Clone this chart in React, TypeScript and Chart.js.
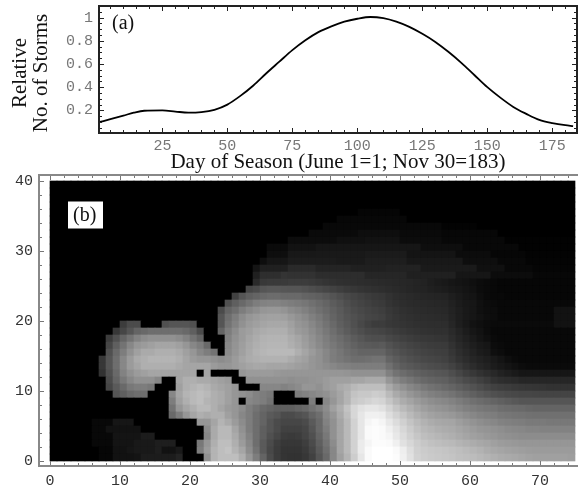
import React, { useEffect, useRef } from "react";
import { Chart, registerables } from "chart.js";

Chart.register(...registerables);

const curveDays = [1, 5, 10, 14, 18, 25, 30, 35, 40, 45, 50, 55, 60, 65, 70, 75, 80, 85, 90, 95, 100, 105, 110, 115, 120, 125, 130, 135, 140, 145, 150, 155, 160, 165, 170, 175, 180, 183];
const curveValues = [0.1, 0.125, 0.155, 0.18, 0.197, 0.2, 0.19, 0.18, 0.185, 0.205, 0.25, 0.325, 0.415, 0.52, 0.62, 0.72, 0.805, 0.875, 0.925, 0.965, 0.99, 1.005, 0.995, 0.965, 0.92, 0.86, 0.79, 0.705, 0.61, 0.505, 0.4, 0.31, 0.23, 0.17, 0.118, 0.09, 0.072, 0.065];

const blank = [0,0,0,0,0,0,0,0,0,0, 0,0,0,0,0,0,0,0,0,0, 0,0,0,0,0,0,0,0,0,0, 0,0,0,0,0,0,0,0,0,0, 0,0,0,0,0,0,0,0,0,0, 0,0,0,0,0,0,0,0,0,0, 0,0,0,0,0,0,0,0,0,0, 0,0,0,0,0];
const y35 = [0,0,0,0,0,0,0,0,0,0, 0,0,0,0,0,0,0,0,0,0, 0,0,0,0,0,0,0,0,0,0, 0,0,0,0,0,0,0,0,0,0, 0,0,0,0,5,5,5,5,5,5, 0,0,0,0,0,0,0,0,0,0, 0,0,0,0,0,0,0,0,0,0, 0,0,0,0,0];
const y34 = [0,0,0,0,0,0,0,0,0,0, 0,0,0,0,0,0,0,0,0,0, 0,0,0,0,0,0,0,0,0,0, 0,0,0,0,0,0,0,0,0,0, 0,7,7,7,7,7,7,7,7,7, 7,0,0,0,0,0,0,0,0,0, 0,0,0,0,0,0,0,0,0,0, 0,0,0,0,0];
const y33 = [0,0,0,0,0,0,0,0,0,0, 0,0,0,0,0,0,0,0,0,0, 0,0,0,0,0,0,0,0,0,0, 0,0,0,0,0,0,0,0,0,8, 8,8,8,8,8,8,8,8,8,8, 8,8,8,8,8,8,3,3,3,3, 3,0,0,0,0,0,0,0,0,0, 0,0,0,0,0];
const y32 = [0,0,0,0,0,0,0,0,0,0, 0,0,0,0,0,0,0,0,0,0, 0,0,0,0,0,0,0,0,0,0, 0,0,0,0,0,0,0,10,10,10, 10,10,10,10,14,14,14,14,14,14, 10,10,10,10,10,10,7,7,7,7, 7,7,7,7,0,0,0,0,0,0, 0,0,0,0,0];
const y31 = [0,0,0,0,0,0,0,0,0,0, 0,0,0,0,0,0,0,0,0,0, 0,0,0,0,0,0,0,0,0,0, 0,0,0,0,12,12,12,12,12,12, 12,16,16,16,16,18,18,18,18,18, 12,12,12,12,12,12,8,8,8,8, 8,8,8,8,8,2,2,2,2,2, 2,2,2,2,2];
const y30 = [0,0,0,0,0,0,0,0,0,0, 0,0,0,0,0,0,0,0,0,0, 0,0,0,0,0,0,0,0,0,0, 0,10,10,10,18,18,18,18,22,22, 22,22,22,22,22,22,22,22,22,22, 22,22,22,14,14,14,14,14,14,8, 8,8,8,8,8,8,8,2,2,2, 2,2,2,2,2];
const y29 = [0,0,0,0,0,0,0,0,0,0, 0,0,0,0,0,0,0,0,0,0, 0,0,0,0,0,0,0,0,0,0, 0,14,14,14,24,24,24,24,25,25, 25,25,25,25,25,27,27,27,27,27, 27,20,20,20,20,20,20,20,12,12, 12,12,12,6,6,6,6,6,3,3, 3,3,3,3,3];
const y28 = [0,0,0,0,0,0,0,0,0,0, 0,0,0,0,0,0,0,0,0,0, 0,0,0,0,0,0,0,0,0,0, 14,22,22,22,28,28,28,28,28,28, 28,26,26,26,26,30,30,30,30,30, 30,24,24,24,24,24,24,24,24,14, 14,14,14,14,8,8,8,8,4,4, 4,4,4,4,4];
const y27 = [0,0,0,0,0,0,0,0,0,0, 0,0,0,0,0,0,0,0,0,0, 0,0,0,0,0,0,0,0,0,20, 32,32,32,32,42,42,42,42,36,36, 36,36,36,32,32,32,32,32,34,34, 34,34,34,26,26,26,26,26,26,26, 26,16,16,16,16,8,8,8,8,5, 5,5,5,5,5];
const y26 = [0,0,0,0,0,0,0,0,0,0, 0,0,0,0,0,0,0,0,0,0, 0,0,0,0,0,0,0,0,0,32, 46,46,46,52,50,50,50,50,45,45, 45,45,45,45,45,38,38,38,38,38, 38,32,32,32,32,32,32,32,22,22, 22,22,22,12,12,12,12,12,12,7, 7,7,7,7,7];
const y25 = [0,0,0,0,0,0,0,0,0,0, 0,0,0,0,0,0,0,0,0,0, 0,0,0,0,0,0,0,0,0,42, 56,58,58,58,60,60,60,58,55,52, 50,48,47,46,45,44,43,42,41,40, 39,38,36,34,30,27,25,22,20,18, 15,12,10,8,6,6,6,6,6,6, 6,6,6,6,6];
const y24 = [0,0,0,0,0,0,0,0,0,0, 0,0,0,0,0,0,0,0,0,0, 0,0,0,0,0,0,0,0,70,75, 85,88,88,86,85,85,82,78,74,70, 66,62,58,55,52,50,48,46,44,42, 40,38,36,35,32,30,28,25,23,20, 17,12,10,8,6,6,6,6,6,6, 6,6,6,6,6];
const y23 = [0,0,0,0,0,0,0,0,0,0, 0,0,0,0,0,0,0,0,0,0, 0,0,0,0,0,0,65,85,95,100, 105,108,108,105,105,105,100,98,95,90, 84,78,72,68,64,60,57,55,50,46, 44,42,40,38,37,36,35,30,26,22, 20,14,10,8,8,6,6,6,6,6, 6,6,6,6,6];
const y22 = [0,0,0,0,0,0,0,0,0,0, 0,0,0,0,0,0,0,0,0,0, 0,0,0,0,0,80,95,105,115,125, 130,132,132,128,125,122,118,112,106,100, 92,86,78,72,68,64,60,58,52,48, 45,43,42,41,40,39,38,33,28,24, 22,16,12,10,8,8,8,8,8,8, 8,8,8,8,8];
const y21 = [0,0,0,0,0,0,0,0,0,0, 0,0,0,0,0,0,0,0,0,0, 0,0,0,0,75,100,110,125,135,142, 150,152,152,148,140,135,128,120,112,105, 97,90,82,76,72,68,65,62,56,52, 48,46,44,43,42,41,40,35,30,25, 22,16,13,12,8,8,8,8,8,8, 8,8,18,18,18];
const y20 = [0,0,0,0,0,0,0,0,0,0, 0,0,0,0,0,0,0,0,0,0, 0,0,0,0,85,110,125,140,150,155, 160,162,162,160,152,145,138,128,120,110, 100,92,85,80,75,70,68,65,58,54, 50,48,46,45,44,43,42,36,30,25, 22,18,14,12,8,8,8,8,8,8, 8,8,18,18,18];
const y19 = [0,0,0,0,0,0,0,0,0,0, 60,75,75,0,0,0,80,85,85,85, 80,0,0,0,85,115,130,145,155,160, 165,168,168,168,160,150,145,135,125,115, 105,95,88,80,72,65,60,60,56,54, 52,50,48,47,46,46,45,38,30,24, 18,15,12,10,10,10,10,10,10,10, 10,10,18,18,18];
const y18 = [0,0,0,0,0,0,0,0,0,55, 70,85,100,105,110,110,110,110,110,105, 95,75,0,0,100,125,140,155,160,168, 172,175,175,175,165,155,150,140,130,120, 110,100,92,84,78,72,70,68,64,60, 57,54,52,50,49,48,48,42,35,28, 22,18,12,8,8,8,8,8,8,8, 8,8,8,8,8];
const y17 = [0,0,0,0,0,0,0,0,60,80, 100,115,130,140,145,145,145,145,140,130, 115,100,0,0,0,130,145,155,165,172, 178,180,180,180,172,165,155,145,135,125, 115,108,100,92,86,80,78,78,72,68, 64,61,58,56,55,53,52,45,38,32, 26,20,15,10,8,8,8,8,8,8, 8,8,8,8,8];
const y16 = [0,0,0,0,0,0,0,0,70,95, 115,135,150,155,160,165,165,165,160,150, 135,125,105,0,0,135,148,158,168,175, 180,182,182,182,175,168,158,148,138,128, 120,112,105,98,92,90,88,90,82,76, 72,68,65,62,60,59,58,50,42,36, 30,25,22,12,10,8,8,8,8,8, 8,8,8,8,8];
const y15 = [0,0,0,0,0,0,0,0,80,105, 125,145,160,170,170,175,175,175,170,160, 150,135,125,115,0,138,150,160,170,178, 182,185,185,185,185,175,165,155,145,135, 125,118,110,105,100,100,100,100,90,84, 78,74,70,67,65,63,62,54,46,40, 34,28,25,15,12,8,8,8,8,8, 8,8,8,8,8];
const y14 = [0,0,0,0,0,0,0,55,85,110, 135,155,170,175,180,180,180,180,175,165, 155,150,150,145,140,145,155,165,172,175, 178,178,178,178,172,165,160,150,145,135, 125,120,115,110,110,112,115,115,100,92, 85,80,76,72,70,68,65,58,50,44, 38,34,30,25,20,14,10,8,8,8, 8,8,8,8,8];
const y13 = [0,0,0,0,0,0,0,55,85,110, 135,155,165,175,175,175,175,175,170,165, 165,165,165,155,150,150,155,160,165,168, 168,165,165,165,162,158,155,150,145,140, 135,130,128,125,125,125,125,125,112,100, 92,88,84,80,77,75,72,66,58,50, 44,38,34,28,24,20,16,12,10,10, 10,10,10,10,10];
const y12 = [0,0,0,0,0,0,0,50,80,105, 130,145,155,160,165,165,165,165,165,165, 165,0,165,0,0,0,0,150,155,155, 155,155,152,150,150,150,150,150,150,150, 150,150,148,145,145,145,145,145,128,115, 108,102,97,93,90,87,85,78,70,62, 56,50,45,40,34,30,26,22,22,22, 22,22,22,22,22];
const y11 = [0,0,0,0,0,0,0,0,75,100, 120,135,145,145,145,135,0,0,165,175, 175,170,170,165,160,155,0,0,145,145, 145,145,145,145,142,145,145,148,150,155, 160,160,160,165,165,170,170,170,150,135, 125,118,110,104,100,97,95,88,82,75, 70,64,58,50,46,44,42,38,38,38, 38,38,38,38,38];
const y10 = [0,0,0,0,0,0,0,0,70,90, 105,120,125,125,120,0,0,0,160,175, 180,185,180,170,165,160,150,0,0,0, 135,135,135,130,135,140,150,150,145,155, 160,170,175,185,190,190,190,190,170,155, 145,135,128,120,114,110,105,100,94,88, 82,76,70,65,62,60,57,55,54,53, 52,50,50,50,50];
const y09 = [0,0,0,0,0,0,0,0,0,85, 95,105,110,110,0,0,0,135,165,180, 185,190,185,175,170,160,150,145,140,130, 125,120,0,0,0,125,130,135,140,145, 155,165,180,195,200,200,205,202,186,170, 160,150,142,134,128,124,120,115,108,102, 96,90,85,80,77,74,72,70,70,69, 68,68,68,68,68];
const y08 = [0,0,0,0,0,0,0,0,0,0, 0,0,0,0,0,0,0,125,160,175, 185,190,180,175,170,160,150,0,135,130, 125,115,0,0,0,0,0,125,0,135, 150,165,180,200,205,210,215,212,198,184, 172,164,155,148,142,138,135,130,124,118, 112,108,104,100,96,92,88,85,85,85, 85,85,85,85,85];
const y07 = [0,0,0,0,0,0,0,0,0,0, 0,0,0,0,0,0,0,115,150,165, 175,185,185,175,165,155,150,140,125,115, 105,100,95,95,95,100,105,115,125,140, 160,175,195,215,225,230,230,225,212,198, 186,176,166,158,152,148,145,140,134,128, 124,120,117,115,110,108,106,105,102,100, 100,100,100,100,100];
const y06 = [0,0,0,0,0,0,0,0,0,0, 0,0,0,0,0,0,0,105,125,150, 165,175,170,175,175,160,150,135,125,110, 100,90,85,75,75,80,85,100,110,135, 150,170,190,215,230,240,240,238,222,210, 198,186,176,168,162,158,155,152,146,140, 135,130,127,125,120,118,116,115,113,112, 112,112,112,112,112];
const y05 = [0,0,0,0,0,0,8,8,8,22, 22,22,0,0,0,0,0,0,0,0, 0,150,150,165,180,170,155,140,125,110, 100,85,75,70,70,70,75,90,105,130, 145,165,185,210,230,245,250,245,232,220, 208,196,186,178,172,168,166,165,158,152, 147,142,138,135,130,128,126,125,122,122, 122,120,120,120,120];
const y04 = [0,0,0,0,0,0,8,8,18,18, 18,18,18,0,0,0,0,0,0,0, 0,0,140,170,185,185,165,145,125,110, 95,85,75,65,65,65,70,85,105,125, 145,165,185,210,230,250,252,250,240,228, 215,203,192,184,180,175,172,170,165,160, 155,150,148,145,142,138,136,135,132,132, 130,130,130,130,130];
const y03 = [0,0,0,0,0,0,8,8,8,20, 20,20,20,28,28,0,0,0,0,0, 0,0,135,170,185,185,170,150,130,110, 95,80,70,60,58,60,68,80,100,120, 145,165,185,210,230,250,252,250,245,232, 220,208,198,190,186,182,178,175,170,165, 160,157,153,150,146,144,142,140,140,140, 140,140,140,140,140];
const y02 = [0,0,0,0,0,0,8,8,8,20, 20,20,25,25,25,30,30,30,0,0, 0,120,150,175,190,190,175,155,135,110, 90,75,62,55,55,55,62,75,95,115, 140,165,185,210,235,245,252,252,250,240, 225,215,205,198,193,190,187,185,180,176, 172,168,165,160,156,154,152,150,150,150, 150,150,150,150,150];
const y01 = [0,0,0,0,0,0,0,6,6,18, 18,22,25,25,25,30,18,18,25,0, 0,125,155,180,190,195,180,165,140,115, 90,72,60,52,52,52,58,70,90,110, 135,165,185,210,235,250,255,255,255,250, 238,222,208,203,200,198,196,193,190,186, 182,178,172,168,165,162,160,158,156,155, 155,155,155,155,155];
const y00 = [0,0,0,0,0,0,0,6,6,18, 18,18,20,28,28,28,28,28,35,0, 0,0,145,180,190,190,190,175,150,125, 100,75,60,52,50,50,55,65,85,105, 135,160,180,205,230,250,255,255,255,252, 240,225,210,205,202,200,198,196,192,190, 188,184,180,176,172,170,168,165,162,160, 160,160,160,160,158];

const grayRows = [y00,y01,y02,y03,y04,y05,y06,y07,y08,y09,y10,y11,y12,y13,y14,y15,y16,y17,y18,y19,y20,y21,y22,y23,y24,y25,y26,y27,y28,y29,y30,y31,y32,y33,y34,y35,blank,blank,blank,blank];

const MONO = "'Liberation Mono', monospace";
const SERIF = "'Liberation Serif', serif";

const noAutoPad = (s: any) => { s.paddingTop = 0; s.paddingBottom = 0; s.paddingLeft = 0; s.paddingRight = 0; };

const curvePanel = {
  id: "curvePanel",
  afterLayout(chart: any) { chart.scales.y.top += 7; },
  afterDatasetsDraw(chart: any) {
    const { ctx, scales: { x, y }, chartArea } = chart;
    const L = chartArea.left, R = chartArea.right, T = chartArea.top, B = chartArea.bottom;
    ctx.save();
    ctx.strokeStyle = "#222";
    ctx.lineWidth = 1;
    for (let d = 5; d <= 180; d += 5) {
      const px = Math.round(x.getPixelForValue(d)) + 0.5;
      const len = d % 25 === 0 ? 5 : 3;
      ctx.beginPath(); ctx.moveTo(px, B); ctx.lineTo(px, B - len); ctx.moveTo(px, T); ctx.lineTo(px, T + len); ctx.stroke();
    }
    for (let k = 1; k <= 21; k++) {
      const v = k * 0.05;
      const py = Math.round(y.getPixelForValue(v)) + 0.5;
      const len = k % 4 === 0 ? 5 : 3;
      ctx.beginPath(); ctx.moveTo(L, py); ctx.lineTo(L + len, py); ctx.moveTo(R, py); ctx.lineTo(R - len, py); ctx.stroke();
    }
    ctx.lineWidth = 2;
    ctx.strokeRect(L, T, R - L, B - T);
    ctx.fillStyle = "#111";
    ctx.font = "20px " + SERIF;
    ctx.textBaseline = "middle";
    ctx.fillText("(a)", 112, 24);
    ctx.restore();
  },
};

const heatPanel = {
  id: "heatPanel",
  afterDatasetsDraw(chart: any) {
    const { ctx, scales: { x, y }, chartArea } = chart;
    const L = chartArea.left, R = chartArea.right, T = chartArea.top, B = chartArea.bottom;
    ctx.save();
    ctx.strokeStyle = "#777";
    ctx.lineWidth = 1;
    for (let v = 0; v <= 75; v += 2) {
      const px = Math.round(x.getPixelForValue(v)) + 0.5;
      const len = v % 10 === 0 ? 5 : 3;
      ctx.beginPath(); ctx.moveTo(px, B); ctx.lineTo(px, B - len); ctx.moveTo(px, T); ctx.lineTo(px, T + len); ctx.stroke();
    }
    for (let v = 0; v <= 40; v += 2) {
      const py = Math.round(y.getPixelForValue(v)) + 0.5;
      const len = v % 10 === 0 ? 5 : 3;
      ctx.beginPath(); ctx.moveTo(L, py); ctx.lineTo(L + len, py); ctx.stroke();
    }
    ctx.strokeStyle = "#888";
    ctx.lineWidth = 2;
    ctx.beginPath(); ctx.moveTo(R, T); ctx.lineTo(L, T); ctx.lineTo(L, B); ctx.lineTo(R, B); ctx.stroke();
    const by = 201.5 - 170;
    ctx.fillStyle = "#fff";
    ctx.fillRect(68, by, 35, 27);
    ctx.fillStyle = "#111";
    ctx.font = "20px " + SERIF;
    ctx.textBaseline = "middle";
    ctx.fillText("(b)", 73, by + 14);
    ctx.restore();
  },
};

export default function App() {
  const topRef = useRef<HTMLCanvasElement>(null);
  const botRef = useRef<HTMLCanvasElement>(null);

  useEffect(() => {
    const a = new Chart(topRef.current as HTMLCanvasElement, {
      type: "line",
      data: {
        datasets: [{
          data: curveDays.map((d, i) => ({ x: d, y: curveValues[i] })),
          borderColor: "#000",
          borderWidth: 1.8,
          pointRadius: 0,
          cubicInterpolationMode: "monotone",
          fill: false,
        }],
      },
      options: {
        animation: false,
        responsive: false,
        devicePixelRatio: 1,
        layout: { autoPadding: false, padding: { top: 6, right: 1, left: 0, bottom: 0 } },
        plugins: { legend: { display: false }, tooltip: { enabled: false } },
        scales: {
          x: {
            type: "linear",
            min: 0.615,
            max: 184.5,
            grid: { display: false, drawTicks: false },
            border: { display: false },
            afterFit: (s: any) => { s.height = 42; noAutoPad(s); },
            ticks: { stepSize: 25, includeBounds: false, autoSkip: false, maxRotation: 0, padding: 4, color: "#777", font: { family: MONO, size: 15 } },
            title: { display: true, text: "Day of Season (June 1=1; Nov 30=183)", color: "#111", font: { family: SERIF, size: 21 }, padding: { top: 0, bottom: 0 } },
          },
          y: {
            type: "linear",
            min: 0.005,
            max: 1.1,
            grid: { display: false, drawTicks: false },
            border: { display: false },
            afterFit: (s: any) => { s.width = 99; noAutoPad(s); },
            ticks: {
              stepSize: 0.2,
              includeBounds: false,
              autoSkip: false,
              padding: 6,
              color: "#777",
              font: { family: MONO, size: 15 },
              callback: (v: any) => (v >= 0.999 ? "1" : Number(v).toFixed(1)),
            },
            title: { display: true, text: ["Relative", "No. of Storms"], color: "#111", font: { family: SERIF, size: 21, lineHeight: 1.0 }, padding: { top: 10, bottom: 0 } },
          },
        },
      },
      plugins: [curvePanel],
    } as any);

    const rowCount = grayRows.length;
    const b = new Chart(botRef.current as HTMLCanvasElement, {
      type: "bar",
      data: {
        datasets: grayRows.map((row, j) => ({
          data: row.map((_, i) => ({ x: i + 0.5, y: [j, j + 1] })),
          backgroundColor: row.map((g) => `rgb(${g},${g},${g})`),
          barThickness: 7,
          borderWidth: 0,
        })),
      },
      options: {
        animation: false,
        responsive: false,
        devicePixelRatio: 1,
        layout: { autoPadding: false, padding: { top: 5, right: 0, left: 0, bottom: 0 } },
        plugins: { legend: { display: false }, tooltip: { enabled: false } },
        scales: {
          x: {
            type: "linear",
            stacked: true,
            offset: false,
            min: -11 / 7,
            max: 528 / 7,
            grid: { display: false, drawTicks: false, offset: false },
            border: { display: false },
            afterFit: (s: any) => { s.height = 23; noAutoPad(s); },
            ticks: { stepSize: 10, includeBounds: false, autoSkip: false, maxRotation: 0, padding: 6, color: "#333", font: { family: MONO, size: 15 } },
          },
          y: {
            type: "linear",
            offset: false,
            min: -5 / 7,
            max: rowCount + 6 / 7,
            grid: { display: false, drawTicks: false },
            border: { display: false },
            afterFit: (s: any) => { s.width = 39; noAutoPad(s); },
            ticks: { stepSize: 10, includeBounds: false, autoSkip: false, padding: 6, color: "#333", font: { family: MONO, size: 15 } },
          },
        },
      },
      plugins: [heatPanel],
    } as any);

    return () => { a.destroy(); b.destroy(); };
  }, []);

  return (
    <div style={{ position: "absolute", left: 0, top: 0, width: 578, height: 489, background: "#fff", overflow: "hidden" }}>
      <canvas ref={topRef} width={578} height={175} style={{ position: "absolute", left: 0, top: 0, width: 578, height: 175 }} />
      <canvas ref={botRef} width={578} height={319} style={{ position: "absolute", left: 0, top: 170, width: 578, height: 319 }} />
    </div>
  );
}
